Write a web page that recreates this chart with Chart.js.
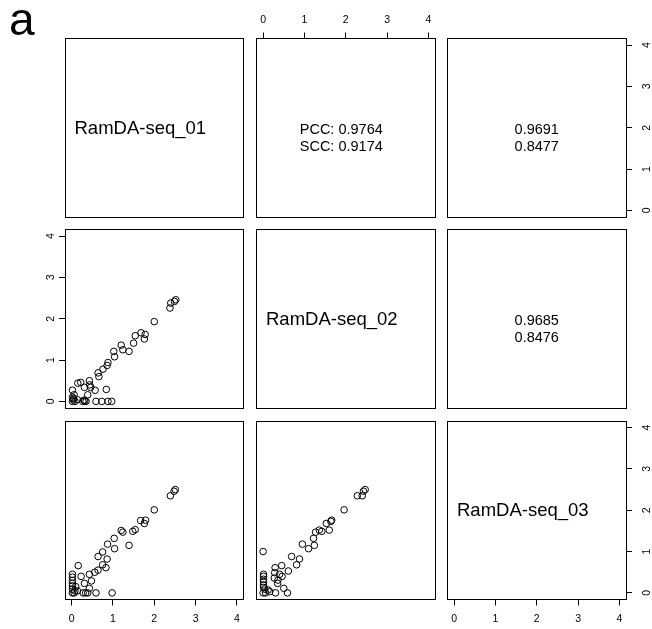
<!DOCTYPE html>
<html>
<head>
<meta charset="utf-8">
<title>RamDA-seq pairs</title>
<script src="https://cdn.jsdelivr.net/npm/chart.js@4/dist/chart.umd.min.js"></script>
<style>
  html, body { margin: 0; padding: 0; background: #fff; }
  #wrap { position: relative; width: 652px; height: 629px; }
  #wrap canvas { position: absolute; left: 0; top: 0; }
</style>
</head>
<body>
<div id="wrap"></div>
<script>
// sample names on the diagonal
const SAMPLES = ['RamDA-seq_01', 'RamDA-seq_02', 'RamDA-seq_03'];

// upper panels: 01-02, 01-03, 02-03
const PCC_VALUES = [0.9764, 0.9691, 0.9685];
const SCC_VALUES = [0.9174, 0.8477, 0.8476];

const TICKS = [0, 1, 2, 3, 4];
const LIM = [-0.16, 4.16];

// lower panels, [x, y]
const S02_VS_01 = [
  [2.38, 2.26], [2.40, 2.38], [2.49, 2.42], [2.52, 2.46], [2.00, 1.93],
  [1.68, 1.66], [1.54, 1.59], [1.76, 1.51], [1.78, 1.62], [1.50, 1.41],
  [1.39, 1.21], [1.20, 1.36], [1.24, 1.25], [1.02, 1.21], [1.04, 1.08],
  [0.88, 0.94], [0.86, 0.87], [0.76, 0.78], [0.64, 0.69], [0.66, 0.60],
  [0.43, 0.50], [0.44, 0.40], [0.46, 0.34], [0.57, 0.27], [0.31, 0.34],
  [0.22, 0.46], [0.15, 0.44], [0.02, 0.27], [0.06, 0.16], [0.39, 0.16],
  [0.84, 0.29], [0.02, 0.00], [0.04, 0.04], [0.08, 0.00], [0.14, 0.04],
  [0.27, 0.00], [0.30, 0.03], [0.35, 0.00], [0.59, 0.00], [0.73, 0.00],
  [0.88, 0.00], [0.97, 0.00], [0.02, 0.10], [0.05, 0.07], [0.32, 0.01]
];
const S03_VS_01 = [
  [2.51, 2.50], [2.48, 2.46], [2.39, 2.35], [2.00, 2.01], [1.67, 1.75],
  [1.76, 1.68], [1.79, 1.76], [1.54, 1.53], [1.48, 1.49], [1.20, 1.51],
  [1.24, 1.47], [1.39, 1.15], [1.03, 1.32], [1.04, 1.07], [0.87, 1.18],
  [0.75, 0.99], [0.86, 0.82], [0.64, 0.88], [0.75, 0.68], [0.83, 0.61],
  [0.64, 0.55], [0.56, 0.50], [0.43, 0.45], [0.48, 0.29], [0.43, 0.11],
  [0.31, 0.23], [0.23, 0.40], [0.16, 0.66], [0.10, 0.15], [0.02, 0.45],
  [0.02, 0.38], [0.02, 0.30], [0.02, 0.23], [0.02, 0.17], [0.02, 0.09],
  [0.02, 0.00], [0.06, 0.00], [0.14, 0.05], [0.28, 0.00], [0.34, 0.00],
  [0.39, 0.00], [0.59, 0.00], [0.98, 0.00], [0.08, 0.05]
];
const S03_VS_02 = [
  [2.47, 2.50], [2.43, 2.46], [2.40, 2.35], [2.28, 2.35], [1.96, 2.01],
  [1.66, 1.76], [1.64, 1.73], [1.53, 1.68], [1.60, 1.52], [1.42, 1.49],
  [1.36, 1.52], [1.27, 1.47], [1.22, 1.32], [1.24, 1.15], [1.10, 1.07],
  [0.95, 1.18], [0.00, 1.00], [0.69, 0.88], [0.88, 0.82], [0.81, 0.68],
  [0.61, 0.53], [0.45, 0.66], [0.29, 0.61], [0.28, 0.49], [0.40, 0.45],
  [0.46, 0.40], [0.27, 0.36], [0.36, 0.31], [0.35, 0.23], [0.50, 0.11],
  [0.59, 0.00], [0.30, 0.00], [0.16, 0.03], [0.01, 0.45], [0.01, 0.40],
  [0.01, 0.33], [0.01, 0.27], [0.01, 0.19], [0.01, 0.13], [0.00, 0.00],
  [0.06, 0.00], [0.12, 0.07], [0.04, 0.09]
];

const FONT = '"Liberation Sans", Arial, Helvetica, sans-serif';
const W = 652, H = 629;
const COL_LEFT = [65, 256.5, 447.5];
const ROW_TOP = [38.5, 229.5, 421];
const BOX = 178.5;

const PANELS = [
  { r: 0, c: 0, label: 0 },
  { r: 0, c: 1, corr: 0, axes: ['top'] },
  { r: 0, c: 2, corr: 1, axes: ['right'] },
  { r: 1, c: 0, points: S02_VS_01, axes: ['left'] },
  { r: 1, c: 1, label: 1 },
  { r: 1, c: 2, corr: 2 },
  { r: 2, c: 0, points: S03_VS_01, axes: ['bottom'] },
  { r: 2, c: 1, points: S03_VS_02 },
  { r: 2, c: 2, label: 2, axes: ['bottom', 'right'] }
];

// room reserved for an axis that carries labels (labels are clipped to it)
const AXIS_ROOM = { top: 30, bottom: 28, left: 30, right: 26 };
const TICK_PAD = { top: 6.2, bottom: 7.2, left: 5.1, right: 12.4 };

function axis(position, shown) {
  const vertical = position === 'left' || position === 'right';
  const room = shown ? AXIS_ROOM[position] : 0;
  return {
    type: 'linear',
    position: position,
    min: LIM[0],
    max: LIM[1],
    afterBuildTicks: function (s) { s.ticks = TICKS.map(function (v) { return { value: v }; }); },
    afterFit: function (s) { if (vertical) s.width = room; else s.height = room; },
    border: { display: true, color: '#000', width: 1 },
    grid: { display: shown, drawOnChartArea: false, drawTicks: true, tickLength: 6, tickColor: '#000', tickWidth: 1 },
    ticks: {
      display: shown,
      autoSkip: false,
      color: '#000',
      font: { family: FONT, size: 10.5 },
      padding: TICK_PAD[position],
      minRotation: vertical ? 90 : 0,
      maxRotation: vertical ? 90 : 0,
      crossAlign: vertical ? 'center' : 'near'
    }
  };
}

// text inside a diagonal / upper panel
function panelText(lines, size, align, dx) {
  return {
    id: 'panelText',
    afterDraw: function (chart) {
      const a = chart.chartArea;
      const ctx = chart.ctx;
      const cy = (a.top + a.bottom) / 2;
      ctx.save();
      ctx.fillStyle = '#000';
      ctx.font = size + 'px ' + FONT;
      ctx.textAlign = align;
      ctx.textBaseline = 'alphabetic';
      const x = align === 'left' ? a.left + 9.5 : (a.left + a.right) / 2 + dx;
      lines.forEach(function (t, i) { ctx.fillText(t, x, cy + 6 + i * 17.7); });
      ctx.restore();
    }
  };
}

const panelLetter = {
  id: 'panelLetter',
  afterDraw: function (chart) {
    const ctx = chart.ctx;
    ctx.save();
    ctx.fillStyle = '#000';
    ctx.font = '46px ' + FONT;
    ctx.textBaseline = 'alphabetic';
    ctx.fillText('a', 9, 35);
    ctx.restore();
  }
};

const wrap = document.getElementById('wrap');

PANELS.forEach(function (p, i) {
  const canvas = document.createElement('canvas');
  canvas.width = W;
  canvas.height = H;
  wrap.appendChild(canvas);

  const axes = p.axes || [];
  const has = function (pos) { return axes.indexOf(pos) !== -1; };
  const room = function (pos) { return has(pos) ? AXIS_ROOM[pos] : 0; };

  const plugins = [];
  if (p.label !== undefined) plugins.push(panelText([SAMPLES[p.label]], 18.5, 'left', 0));
  if (p.corr !== undefined) {
    const pcc = PCC_VALUES[p.corr].toFixed(4);
    const scc = SCC_VALUES[p.corr].toFixed(4);
    if (p.corr === 0) plugins.push(panelText(['PCC: ' + pcc, 'SCC: ' + scc], 14.5, 'center', -4.5));
    else plugins.push(panelText([pcc, scc], 14.5, 'center', 0));
  }
  if (i === 0) plugins.push(panelLetter);

  const left = COL_LEFT[p.c], top = ROW_TOP[p.r];

  new Chart(canvas, {
    type: 'scatter',
    data: {
      datasets: p.points ? [{
        data: p.points.map(function (d) { return { x: d[0], y: d[1] }; }),
        xAxisID: 'x',
        yAxisID: 'y',
        pointStyle: 'circle',
        pointRadius: 3.3,
        pointBorderWidth: 1,
        borderColor: '#000',
        backgroundColor: 'rgba(0,0,0,0)'
      }] : []
    },
    options: {
      responsive: false,
      animation: false,
      events: [],
      layout: {
        padding: {
          left: left - room('left'),
          top: top - room('top'),
          right: W - left - BOX - room('right'),
          bottom: H - top - BOX - room('bottom')
        }
      },
      plugins: { legend: { display: false }, tooltip: { enabled: false } },
      scales: {
        x: axis('bottom', has('bottom')),
        xTop: axis('top', has('top')),
        y: axis('left', has('left')),
        yRight: axis('right', has('right'))
      }
    },
    plugins: plugins
  });
});
</script>
</body>
</html>
